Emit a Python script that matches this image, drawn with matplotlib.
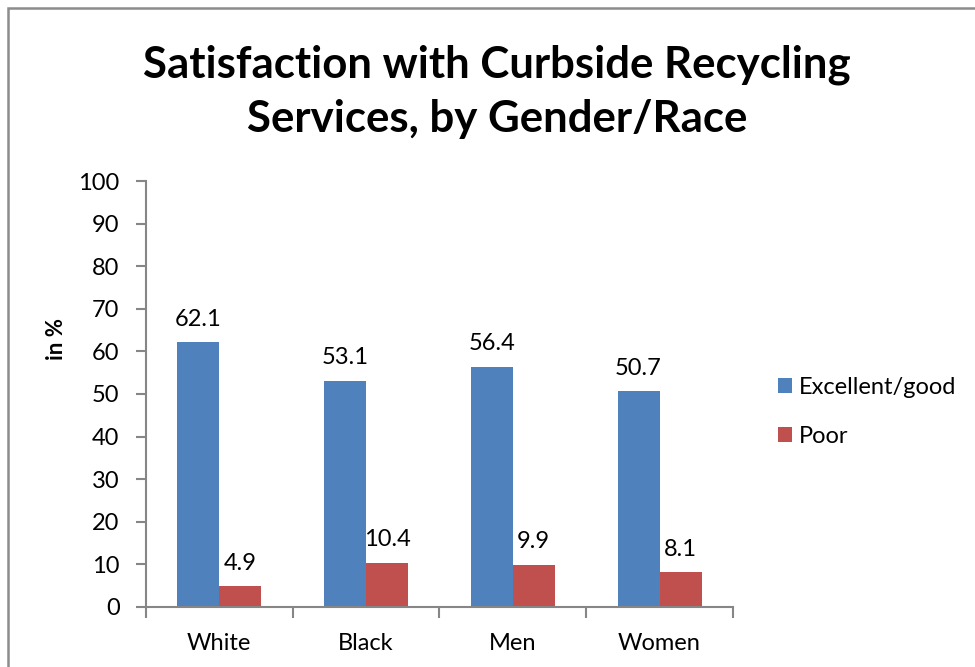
import numpy as np
import matplotlib.pyplot as plt
from matplotlib.patches import Rectangle

categories = ['White', 'Black', 'Men', 'Women']
excellent_good = [62.1, 53.1, 56.4, 50.7]
poor = [4.9, 10.4, 9.9, 8.1]

blue = '#4f81bd'
red = '#c0504d'
axis_grey = '#868686'

plt.rcParams['font.family'] = ['Lato', 'DejaVu Sans']

fig = plt.figure(figsize=(9.75, 6.67), dpi=100)
ax = fig.add_axes([0.1497, 0.09, 0.602, 0.6386])

# chart border (clipped at right/bottom like the original)
fig.patches.append(Rectangle((0.0077, -0.1), 1.1, 1.088, transform=fig.transFigure,
                             fill=False, edgecolor='#8c8c8c', linewidth=1.8))

x = np.arange(len(categories))
w = 0.286
b1 = ax.bar(x - w / 2, excellent_good, w, color=blue, label='Excellent/good')
b2 = ax.bar(x + w / 2, poor, w, color=red, label='Poor')

for bars, vals in ((b1, excellent_good), (b2, poor)):
    for rect, v in zip(bars, vals):
        ax.annotate(f'{v}', (rect.get_x() + rect.get_width() / 2, v),
                    xytext=(0, 9), textcoords='offset points',
                    ha='center', va='bottom', fontsize=17)

ax.set_xlim(-0.5, len(categories) - 0.5)
ax.set_ylim(0, 100)
ax.set_yticks(np.arange(0, 101, 10))
ax.set_xticks(x)
ax.set_xticklabels(categories)
ax.set_xticks(np.arange(-0.5, len(categories), 1), minor=True)
ax.tick_params(axis='x', which='major', length=0, pad=19, labelsize=17)
ax.tick_params(axis='x', which='minor', length=8, width=1.5, color=axis_grey)
ax.tick_params(axis='y', length=7, width=1.5, color=axis_grey, labelsize=17, pad=12)

for side in ('top', 'right'):
    ax.spines[side].set_visible(False)
for side in ('left', 'bottom'):
    ax.spines[side].set_color(axis_grey)
    ax.spines[side].set_linewidth(1.5)

ax.set_ylabel('in %', fontsize=16, fontweight='bold')
ax.yaxis.set_label_coords(-0.135, 0.63)

fig.text(0.51, 0.862, 'Satisfaction with Curbside Recycling\nServices, by Gender/Race',
         ha='center', va='center', fontsize=31.5, fontweight='bold', linespacing=1.42)

ax.legend(loc='center left', bbox_to_anchor=(1.04, 0.458), frameon=False,
          fontsize=17, handlelength=0.6, handleheight=0.6, handletextpad=0.3,
          labelspacing=1.2)

fig.savefig('out.png', dpi=100)
